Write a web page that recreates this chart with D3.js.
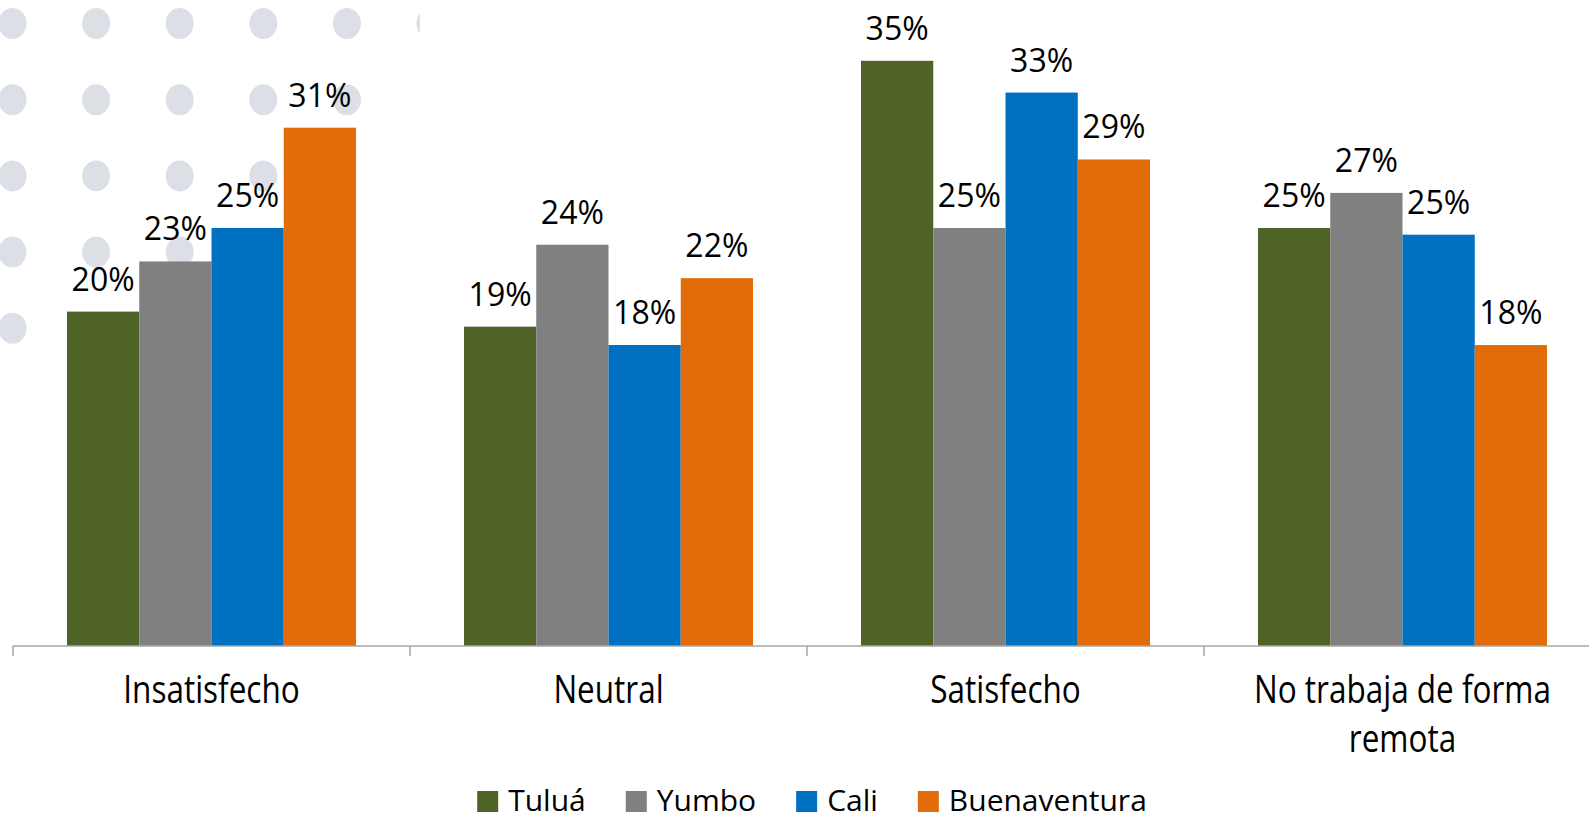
<!DOCTYPE html>
<html>
<head>
<meta charset="utf-8">
<script src="https://cdn.jsdelivr.net/npm/d3@7"></script>
<style>
  body { margin: 0; background: #fff; }
  text { font-family: "Open Sans", sans-serif; fill: #000; }
</style>
</head>
<body>
<script>
const WIDTH = 1589;
const HEIGHT = 821;

// Data.
const categories = ['Insatisfecho', 'Neutral', 'Satisfecho', 'No trabaja de forma remota'];
const series = ['Tuluá', 'Yumbo', 'Cali', 'Buenaventura'];
const tulua = [0.20, 0.191, 0.35, 0.25];
const yumbo = [0.23, 0.24, 0.25, 0.271];
const cali = [0.25, 0.18, 0.331, 0.246];
const buenaventura = [0.31, 0.22, 0.291, 0.18];
const colors = ['#4f6228', '#808080', '#0070c0', '#e36c0a'];

const values = [tulua, yumbo, cali, buenaventura];

const BASELINE = 646;
const AXIS_LEFT = 13;
const STEP = 397;

var svg = d3.select('body')
    .append('svg')
    .attr('width', WIDTH)
    .attr('height', HEIGHT);

// Background dot pattern, top left corner. It is cut off on the right.
var clip = svg.append('clipPath').attr('id', 'dotclip');
clip.append('rect').attr('x', 0).attr('y', 0).attr('width', 420).attr('height', 60);
clip.append('rect').attr('x', 0).attr('y', 60).attr('width', 362).attr('height', 80);
clip.append('rect').attr('x', 0).attr('y', 140).attr('width', 356).attr('height', 260);
var dots = svg.append('g').attr('class', 'dots').attr('clip-path', 'url(#dotclip)');
d3.range(5).forEach(function(r) {
    d3.range(6).forEach(function(c) {
        dots.append('ellipse')
            .attr('cx', 12.5 + c * 83.6)
            .attr('cy', 23.5 + r * 76.2)
            .attr('rx', 14)
            .attr('ry', 15.5)
            .attr('fill', '#dddfe6');
    });
});

// Scales.
var xCat = d3.scaleBand()
    .domain(categories)
    .range([AXIS_LEFT, AXIS_LEFT + STEP * categories.length]);
var x0 = xCat.copy().paddingInner(0.272).paddingOuter(0.136);
var x1 = d3.scaleBand()
    .domain(series)
    .range([0, x0.bandwidth()]);
var y = d3.scaleLinear()
    .domain([0, 0.38])
    .range([BASELINE, BASELINE - 38 * 16.72]);

var fmt = d3.format('.0%');

// Bars.
var groups = svg.append('g').selectAll('g')
    .data(categories)
    .enter()
    .append('g')
    .attr('transform', function(d) { return 'translate(' + x0(d) + ',0)'; });

groups.selectAll('rect')
    .data(function(d, i) { return series.map((s, j) => ({ s: s, v: values[j][i], j: j })); })
    .enter()
    .append('rect')
    .attr('x', d => x1(d.s))
    .attr('y', d => y(d.v))
    .attr('width', x1.bandwidth())
    .attr('height', d => BASELINE - y(d.v))
    .attr('fill', d => colors[d.j]);

groups.selectAll('text')
    .data(function(d, i) { return series.map((s, j) => ({ s: s, v: values[j][i], j: j })); })
    .enter()
    .append('text')
    .attr('x', d => x1(d.s) + x1.bandwidth() / 2)
    .attr('y', d => y(d.v) - 21)
    .attr('text-anchor', 'middle')
    .style('font-size', '32px')
    .text(d => fmt(d.v));

// Category axis.
var axis = svg.append('g');
axis.append('line')
    .attr('x1', AXIS_LEFT)
    .attr('x2', WIDTH)
    .attr('y1', BASELINE)
    .attr('y2', BASELINE)
    .attr('stroke', '#a6a6a6')
    .attr('stroke-width', 1.5);
axis.selectAll('.tick')
    .data(categories)
    .enter()
    .append('line')
    .attr('class', 'tick')
    .attr('x1', d => xCat(d))
    .attr('x2', d => xCat(d))
    .attr('y1', BASELINE)
    .attr('y2', BASELINE + 10)
    .attr('stroke', '#a6a6a6')
    .attr('stroke-width', 1.5);

// labels, wrapped like the original.
const catLines = [['Insatisfecho'], ['Neutral'], ['Satisfecho'], ['No trabaja de forma', 'remota']];
axis.selectAll('.cat')
    .data(categories)
    .enter()
    .append('text')
    .attr('class', 'cat')
    .attr('text-anchor', 'middle')
    .attr('transform', d => 'translate(' + (xCat(d) + xCat.bandwidth() / 2) + ',703) scale(1,1.22)')
    .style('font-size', '31.5px')
    .each(function(d, i) {
        var t = d3.select(this);
        catLines[i].forEach(function(line, k) {
            t.append('tspan')
                .attr('x', 0)
                .attr('y', k * 40)
                .text(line);
        });
    });

// Legend.
var legend = svg.append('g');
var items = legend.selectAll('g')
    .data(series)
    .enter()
    .append('g');
items.append('rect')
    .attr('width', 21)
    .attr('height', 21)
    .attr('y', 791)
    .attr('fill', (d, i) => colors[i]);
items.append('text')
    .attr('x', 31)
    .attr('y', 811)
    .style('font-size', '30px')
    .text(d => d);

var offset = 0;
var positions = [];
items.each(function() {
    var w = d3.select(this).select('text').node().getComputedTextLength();
    positions.push(offset);
    offset += 31 + w + 40;
});
var total = offset - 40;
var start = 812 - total / 2;
items.attr('transform', (d, i) => 'translate(' + (start + positions[i]) + ',0)');
</script>
</body>
</html>
